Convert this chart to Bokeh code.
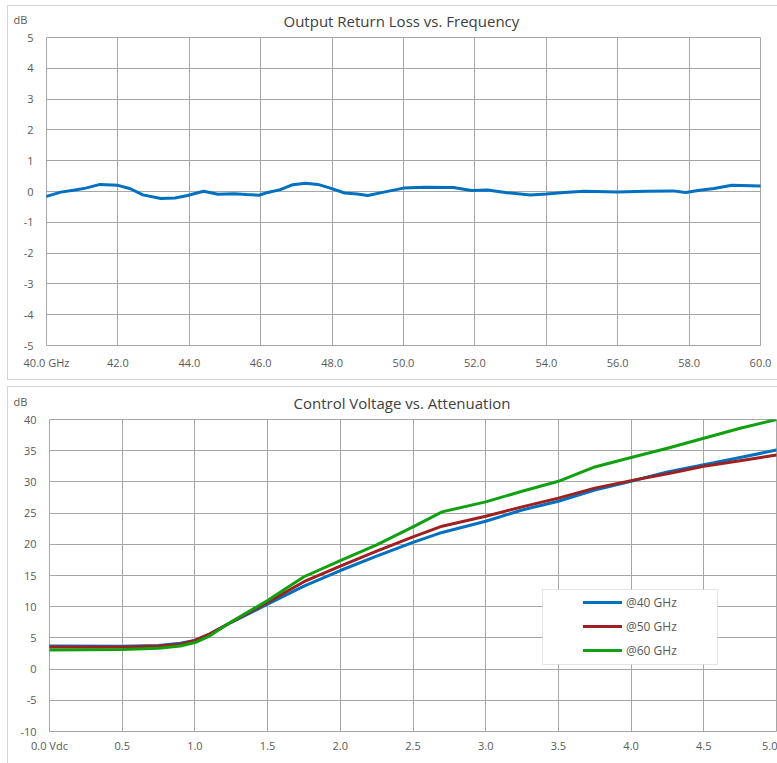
from bokeh.plotting import figure
from bokeh.models import FixedTicker, Legend, LegendItem, Title, BoxAnnotation, Range1d
from bokeh.embed import file_html
from bokeh.resources import INLINE

# ---------------- data: Output Return Loss vs. Frequency ----------------
freq_ghz = [40.0, 40.4, 40.8, 41.1, 41.5, 42.0, 42.35, 42.7, 43.2, 43.6, 43.95,
            44.4, 44.8, 45.25, 45.6, 45.95, 46.2, 46.55, 46.9, 47.25, 47.6,
            47.95, 48.35, 48.7, 49.0, 49.45, 50.0, 50.6, 51.4, 51.9, 52.35,
            52.9, 53.55, 54.0, 54.5, 55.05, 56.0, 56.8, 57.55, 57.9, 58.3,
            58.7, 59.2, 60.0]
return_loss_db = [-0.16, -0.02, 0.05, 0.11, 0.23, 0.20, 0.09, -0.11, -0.23, -0.21, -0.13,
                  0.01, -0.09, -0.07, -0.10, -0.12, -0.03, 0.06, 0.22, 0.27, 0.23,
                  0.11, -0.05, -0.08, -0.13, -0.02, 0.11, 0.14, 0.13, 0.03, 0.05,
                  -0.04, -0.11, -0.08, -0.03, 0.01, -0.02, 0.01, 0.02, -0.03, 0.04,
                  0.10, 0.20, 0.18]
freq_ticks = [40, 42, 44, 46, 48, 50, 52, 54, 56, 58, 60]
freq_tick_labels = ["40.0 GHz", "42.0", "44.0", "46.0", "48.0", "50.0",
                    "52.0", "54.0", "56.0", "58.0", "60.0"]
rl_y_ticks = [-5, -4, -3, -2, -1, 0, 1, 2, 3, 4, 5]
rl_y_tick_labels = ["-5", "-4", "-3", "-2", "-1", "0", "1", "2", "3", "4", "5"]

# ---------------- data: Control Voltage vs. Attenuation ----------------
vdc = [0.0, 0.5, 0.75, 0.9, 1.0, 1.1, 1.25, 1.5, 1.75, 2.0, 2.25, 2.5, 2.7,
       3.0, 3.25, 3.5, 3.75, 4.0, 4.25, 4.5, 4.75, 5.0]
att_40ghz = [3.7, 3.65, 3.8, 4.15, 4.6, 5.6, 7.5, 10.4, 13.3, 15.8, 18.1, 20.3, 21.9,
             23.7, 25.5, 26.9, 28.7, 30.1, 31.6, 32.75, 33.9, 35.1]
att_50ghz = [3.55, 3.55, 3.7, 4.0, 4.6, 5.6, 7.5, 10.7, 14.0, 16.5, 18.9, 21.2, 22.9,
             24.5, 26.0, 27.4, 29.0, 30.2, 31.3, 32.5, 33.4, 34.3]
att_60ghz = [3.05, 3.15, 3.35, 3.7, 4.25, 5.3, 7.6, 11.0, 14.8, 17.4, 19.9, 22.8, 25.2,
             26.8, 28.5, 30.1, 32.4, 33.9, 35.4, 37.0, 38.6, 40.0]
series_names = ["@40 GHz", "@50 GHz", "@60 GHz"]
v_ticks = [0.0, 0.5, 1.0, 1.5, 2.0, 2.5, 3.0, 3.5, 4.0, 4.5, 5.0]
v_tick_labels = ["0.0 Vdc", "0.5", "1.0", "1.5", "2.0", "2.5", "3.0", "3.5",
                 "4.0", "4.5", "5.0"]
att_y_ticks = [-10, -5, 0, 5, 10, 15, 20, 25, 30, 35, 40]
att_y_tick_labels = ["-10", "-5", "0", "5", "10", "15", "20", "25", "30", "35", "40"]

FONT = "Open Sans"
GRID = "#a6a6a6"
TXT = "#595959"
EDGE = "#d4d4d4"


def frame_css(lines):
    # lines: list of (x, y, w, h) thin rectangles drawn as the chart-area border
    g = "linear-gradient(%s, %s)" % (EDGE, EDGE)
    return {
        "background-image": ", ".join([g] * len(lines)),
        "background-position": ", ".join("%dpx %dpx" % (x, y) for x, y, w, h in lines),
        "background-size": ", ".join("%dpx %dpx" % (w, h) for x, y, w, h in lines),
        "background-repeat": "no-repeat",
    }


def style(p, xt, xl, yt, yl, xstand, ystand):
    p.xaxis.ticker = FixedTicker(ticks=xt)
    p.yaxis.ticker = FixedTicker(ticks=yt)
    p.xaxis.major_label_overrides = {t: l for t, l in zip(xt, xl)}
    p.yaxis.major_label_overrides = {t: l for t, l in zip(yt, yl)}
    for ax in (p.xaxis, p.yaxis):
        ax.axis_line_color = None
        ax.major_tick_line_color = None
        ax.minor_tick_line_color = None
        ax.major_tick_out = 0
        ax.major_tick_in = 0
        ax.major_label_text_font = FONT
        ax.major_label_text_font_size = "11px"
        ax.major_label_text_color = TXT
    p.xaxis.major_label_standoff = xstand
    p.yaxis.major_label_standoff = ystand
    p.xgrid.ticker = FixedTicker(ticks=xt)
    p.ygrid.ticker = FixedTicker(ticks=yt)
    for g in (p.xgrid, p.ygrid):
        g.grid_line_color = GRID
        g.grid_line_width = 1
    p.outline_line_color = GRID
    p.outline_line_width = 1
    p.background_fill_color = "white"
    p.border_fill_color = None


def add_titles(p, main_text, main_offset, unit_offset):
    # unit label "dB" (outer panel, pulled down next to the main title)
    p.title.text = "dB"
    p.title.align = "left"
    p.title.offset = unit_offset
    p.title.standoff = -50
    p.title.text_font = FONT
    p.title.text_font_size = "11px"
    p.title.text_font_style = "normal"
    p.title.text_color = TXT
    # main chart title (panel nearest the plot frame)
    p.add_layout(Title(text=main_text, align="left", offset=main_offset, standoff=14,
                       text_font=FONT, text_font_size="15px", text_font_style="normal",
                       text_color="#404040"), "above")


# ---------------- top chart ----------------
p1 = figure(width=777, height=383, output_backend="svg", toolbar_location=None,
            x_range=Range1d(40, 60), y_range=Range1d(-5, 5),
            min_border_left=46, min_border_right=17, min_border_top=37,
            min_border_bottom=38)
style(p1, freq_ticks, freq_tick_labels, rl_y_ticks, rl_y_tick_labels, 9, 13)
add_titles(p1, "Output Return Loss vs. Frequency", 237, -33)
p1.line(freq_ghz, return_loss_db, line_color="#0070c0", line_width=3,
        line_join="round", line_cap="round")
p1.styles = frame_css([(7, 5, 1, 375), (7, 5, 770, 1), (7, 379, 770, 1)])

# ---------------- bottom chart ----------------
p2 = figure(width=777, height=380, output_backend="svg", toolbar_location=None,
            x_range=Range1d(0, 5), y_range=Range1d(-10, 40),
            min_border_left=49, min_border_right=1, min_border_top=35,
            min_border_bottom=32)
style(p2, v_ticks, v_tick_labels, att_y_ticks, att_y_tick_labels, 6, 13)
add_titles(p2, "Control Voltage vs. Attenuation", 244, -36)
colors = ["#0070c0", "#a02020", "#10a010"]
renderers = []
for ys, c in zip([att_40ghz, att_50ghz, att_60ghz], colors):
    r = p2.line(vdc, ys, line_color=c, line_width=3, line_join="round", line_cap="round")
    renderers.append(r)
p2.styles = frame_css([(7, 3, 770, 1), (7, 3, 1, 377)])
# legend frame
p2.add_layout(BoxAnnotation(left=542, right=717, top=206, bottom=281,
                            left_units="canvas", right_units="canvas",
                            top_units="canvas", bottom_units="canvas",
                            fill_color="white", fill_alpha=1,
                            line_color="#a6a6a6", line_width=1))
legend = Legend(items=[LegendItem(label=n, renderers=[r]) for n, r in zip(series_names, renderers)],
                location=(534, 71), padding=0, margin=0, spacing=4,
                glyph_width=39, glyph_height=20, label_height=20, label_standoff=4,
                label_text_font=FONT, label_text_font_size="12px", label_text_color=TXT,
                border_line_color=None, background_fill_alpha=0)
p2.add_layout(legend)

open("out.html", "w").write(file_html([p1, p2], INLINE))
